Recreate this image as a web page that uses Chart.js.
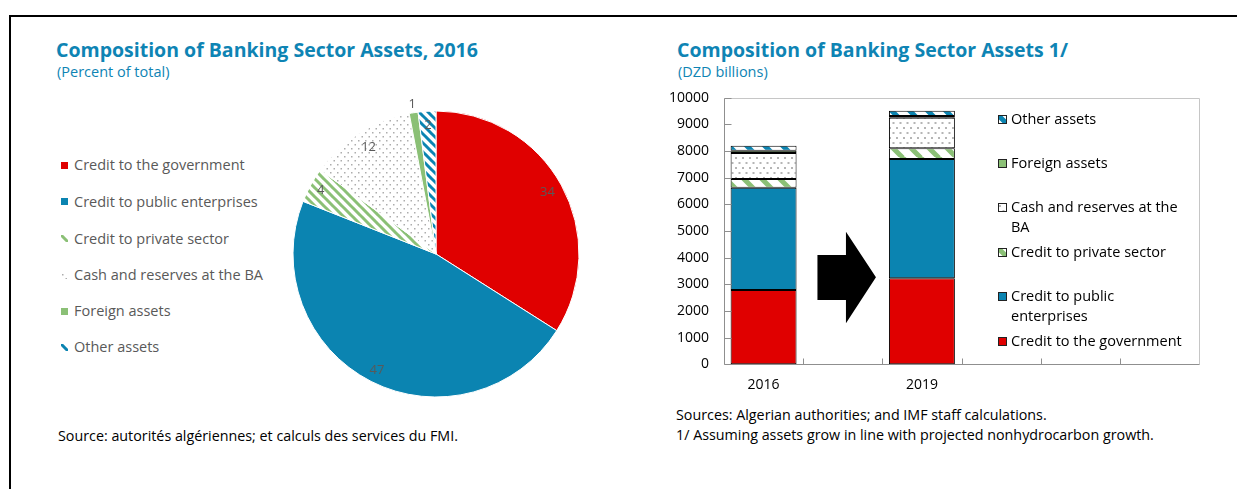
<!DOCTYPE html>
<html><head><meta charset="utf-8">
<script src="https://cdn.jsdelivr.net/npm/chart.js@4.4.0/dist/chart.umd.min.js"></script>
<style>
html,body{margin:0;padding:0;background:#fff;}
body{width:1237px;height:489px;position:relative;overflow:hidden;font-family:'Open Sans',sans-serif;}
#frame{position:absolute;left:9px;top:15px;width:1300px;height:500px;border-top:2px solid #000;border-left:2px solid #000;}
.t{position:absolute;white-space:nowrap;line-height:1;}
.title{font-weight:700;font-size:19.5px;color:#0E84B4;}
.sub{font-size:14.5px;color:#0E84B4;}
.src{font-size:14.3px;color:#000;}
#pieWrap{position:absolute;left:280px;top:90px;width:312px;height:320px;}
#barWrap{position:absolute;left:650px;top:85px;width:560px;height:320px;}
.lg{position:absolute;white-space:pre;line-height:20px;}
.sw{position:absolute;}
</style></head>
<body>
<div id="frame"></div>
<div class="t title" style="left:56px;top:39.7px">Composition of Banking Sector Assets, 2016</div>
<div class="t sub" style="left:57px;top:64.6px">(Percent of total)</div>
<div class="t title" style="left:677px;top:39.7px">Composition of Banking Sector Assets 1/</div>
<div class="t sub" style="left:678px;top:64.6px">(DZD billions)</div>
<div class="t src" style="left:58px;top:428.8px">Source: autorités algériennes; et calculs des services du FMI.</div>
<div class="t src" style="left:676px;top:407.8px">Sources: Algerian authorities; and IMF staff calculations.</div>
<div class="t src" style="left:676px;top:427.8px">1/ Assuming assets grow in line with projected nonhydrocarbon growth.</div>
<div id="pieWrap"><canvas id="pie" width="312" height="320"></canvas></div>
<div id="barWrap"><canvas id="bar" width="560" height="320"></canvas></div>
<div id="pieLegend"></div>
<div id="barLegend"></div>
<script>
// ---------- DATA ----------
const categories = ['Credit to the government','Credit to public enterprises','Credit to private sector','Cash and reserves at the BA','Foreign assets','Other assets'];
const pieShares2016 = [34, 47, 4, 12, 1, 2];
const barYears = ['2016','','2019','','',''];
const govCredit     = [2790, null, 3230, null, null, null];
const publicCredit  = [3830, null, 4470, null, null, null];
const privateCredit = [330,  null, 400,  null, null, null];
const cashReserves  = [980,  null, 1150, null, null, null];
const foreignAssets = [80,   null, 60,   null, null, null];
const otherAssets   = [190,  null, 200,  null, null, null];
const yTickValues = [0,1000,2000,3000,4000,5000,6000,7000,8000,9000,10000];
const barLegendLabels = ['Credit to the government','Credit to public\nenterprises','Credit to private sector','Cash and reserves at the\nBA','Foreign assets','Other assets'];

// ---------- STYLE ----------
const RED='#E00000', BLUE='#0B84B1', GREEN='#8BC076';
Chart.defaults.font.family = "'Open Sans', sans-serif";
Chart.defaults.color = '#000';

function tile(w,h,draw){const c=document.createElement('canvas');c.width=w;c.height=h;const x=c.getContext('2d');x.fillStyle='#fff';x.fillRect(0,0,w,h);draw(x,w,h);return c;}
function stripes(color,P,lw){return tile(P,P,(x)=>{x.strokeStyle=color;x.lineWidth=lw;x.beginPath();for(const k of [-P,0,P]){x.moveTo(k-1,-1);x.lineTo(k+P+1,P+1);}x.stroke();});}
function dots(color,w,h,s){return tile(w,h,(x)=>{x.fillStyle=color;x.fillRect(1,2,s,s);x.fillRect(1+w/2,2+h/2,s,s);});}
function solid(color){return tile(4,4,(x)=>{x.fillStyle=color;x.fillRect(0,0,4,4);});}
const tmp=document.createElement('canvas').getContext('2d');
const pat=(t)=>tmp.createPattern(t,'repeat');
const pieTiles=[solid(RED),solid(BLUE),stripes(GREEN,9,3),dots('#ADADAD',7,8,1.5),solid(GREEN),stripes(BLUE,9,3)];
const barTiles=[solid(RED),solid(BLUE),stripes(GREEN,18,5),dots('#B5B5B5',7,10,2),solid(GREEN),stripes(BLUE,18,5)];
const pieFills=[RED,BLUE,pat(pieTiles[2]),pat(pieTiles[3]),GREEN,pat(pieTiles[5])];
const barFills=[RED,BLUE,pat(barTiles[2]),pat(barTiles[3]),GREEN,pat(barTiles[5])];
const pieLabelRadius=[0.89,0.91,0.92,0.88,1.06,0.905];

// ---------- PIE ----------
const pieLabels={id:'pieLabels',afterDatasetsDraw(chart){
  const {ctx}=chart;const meta=chart.getDatasetMeta(0);const data=chart.data.datasets[0].data;
  ctx.save();ctx.font="13px 'Open Sans'";ctx.fillStyle='#595959';ctx.textAlign='center';ctx.textBaseline='middle';
  meta.data.forEach((arc,i)=>{const p=arc.getProps(['x','y','startAngle','endAngle','outerRadius'],true);
    const m=(p.startAngle+p.endAngle)/2,r=p.outerRadius*pieLabelRadius[i];
    ctx.fillText(String(data[i]),p.x+Math.cos(m)*r,p.y+Math.sin(m)*r);});
  ctx.restore();}};
new Chart(document.getElementById('pie'),{
  type:'pie',
  data:{labels:categories,datasets:[{data:pieShares2016,backgroundColor:pieFills,borderColor:'#fff',borderWidth:1,radius:143}]},
  options:{responsive:false,animation:false,events:[],layout:{padding:{left:13,right:13,top:20,bottom:12}},
    plugins:{legend:{display:false},tooltip:{enabled:false}}},
  plugins:[pieLabels]});

// ---------- BAR ----------
const barDecor={id:'barDecor',afterDatasetsDraw(chart){
  const {ctx,chartArea:a,scales:{x,y}}=chart;ctx.save();
  const L=Math.round(a.left)+0.5,B=Math.round(a.bottom)+0.5,T=Math.round(a.top)+0.5,R=Math.round(a.right)+0.5;
  ctx.strokeStyle='#C6C6C6';ctx.lineWidth=1;ctx.beginPath();ctx.moveTo(L,T);ctx.lineTo(R,T);ctx.lineTo(R,B);ctx.stroke();
  ctx.strokeStyle='#8F8F8F';ctx.beginPath();ctx.moveTo(L,T);ctx.lineTo(L,B);ctx.lineTo(R,B);
  y.ticks.forEach(t=>{const py=Math.round(y.getPixelForValue(t.value))+0.5;ctx.moveTo(L,py);ctx.lineTo(L+7,py);});
  for(let i=1;i<x.ticks.length;i++){const px=Math.round((x.getPixelForValue(i-1)+x.getPixelForValue(i))/2)+0.5;ctx.moveTo(px,B);ctx.lineTo(px,B-6);}
  ctx.stroke();
  // decorative arrow between the two years
  const cx=x.getPixelForValue(1),t=a.top;
  ctx.fillStyle='#000';ctx.beginPath();
  ctx.moveTo(cx-25.3,t+157.3);ctx.lineTo(cx+3.2,t+157.3);ctx.lineTo(cx+3.2,t+134);ctx.lineTo(cx+33.2,t+179.6);
  ctx.lineTo(cx+3.2,t+225.6);ctx.lineTo(cx+3.2,t+202.3);ctx.lineTo(cx-25.3,t+202.3);ctx.closePath();ctx.fill();
  ctx.restore();}};
const series=[govCredit,publicCredit,privateCredit,cashReserves,foreignAssets,otherAssets];
new Chart(document.getElementById('bar'),{
  type:'bar',
  data:{labels:barYears,datasets:series.map((d,i)=>({label:categories[i],data:d,backgroundColor:barFills[i],borderColor:'#000',borderWidth:1,borderSkipped:false,barPercentage:0.833,categoryPercentage:1}))},
  options:{responsive:false,animation:false,events:[],layout:{padding:{left:0,right:11,top:12.7,bottom:0}},
    plugins:{legend:{display:false},tooltip:{enabled:false}},
    scales:{
      x:{stacked:true,offset:true,grid:{display:false,drawTicks:false},border:{display:false},
         ticks:{padding:12,color:'#000',font:{size:14},autoSkip:false,maxRotation:0},
         afterFit(s){s.height=40.7;s.paddingLeft=0;s.paddingRight=0;}},
      y:{stacked:true,min:0,max:10000,grid:{display:false,drawTicks:false},border:{display:false},
         ticks:{padding:15,color:'#000',font:{size:14},callback:(v)=>String(v)},
         afterFit(s){s.width=74;s.paddingTop=0;s.paddingBottom=0;},
         afterBuildTicks(s){s.ticks=yTickValues.map(v=>({value:v}));}}
    }},
  plugins:[barDecor]});

// ---------- LEGENDS ----------
function swatch(tileC,size,border){const c=document.createElement('canvas');c.width=size;c.height=size;c.className='sw';
  const x=c.getContext('2d');x.fillStyle=x.createPattern(tileC,'repeat');x.fillRect(0,0,size,size);
  if(border){x.strokeStyle='#222';x.lineWidth=1;x.strokeRect(0.5,0.5,size-1,size-1);}return c;}
const pieLegendY=[165,201.5,238.5,275,311,347.3];
const pl=document.getElementById('pieLegend');
categories.forEach((name,i)=>{const s=swatch(pieTiles[i],7,false);s.style.left='61px';s.style.top=(pieLegendY[i]-3.5)+'px';pl.appendChild(s);
  const d=document.createElement('div');d.className='lg';d.textContent=name;d.style.cssText+='left:74px;top:'+(pieLegendY[i]-10)+'px;font-size:14.5px;color:#595959;';pl.appendChild(d);});
const barLegendY=[341,296,252,207,163,119];
const bl=document.getElementById('barLegend');
barLegendLabels.forEach((name,i)=>{const s=swatch(barTiles[i],9,true);s.style.left='998px';s.style.top=(barLegendY[i]-4.5)+'px';bl.appendChild(s);
  const d=document.createElement('div');d.className='lg';d.textContent=name;d.style.cssText+='left:1011px;top:'+(barLegendY[i]-10)+'px;font-size:14.5px;color:#000;';bl.appendChild(d);});
</script>
</body></html>
